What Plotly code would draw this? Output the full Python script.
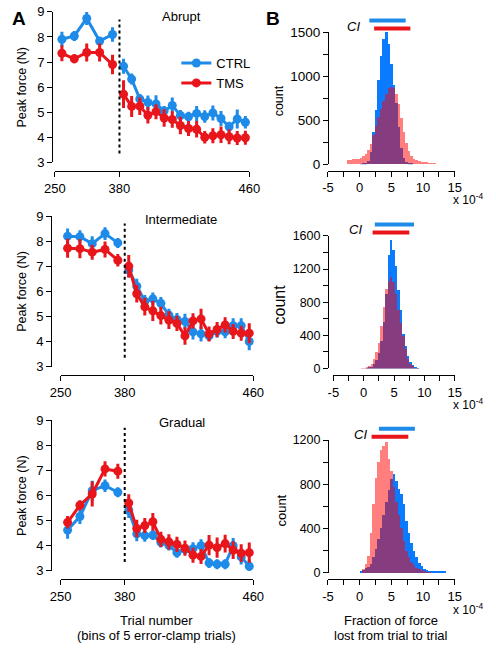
import plotly.graph_objects as go

W, H = 496, 651
FONT = "Liberation Sans, Arial, sans-serif"
BLUE = "#1f8be8"
RED = "#e8151b"
HIST_BLUE = "#0a7bff"
HIST_RED = "rgba(255,0,0,0.5)"

# ---------------- data ----------------
pre_trials = [264, 289, 314, 340, 366]
post_trials = [382.5, 387.5, 392.5, 397.5, 402.5, 407.5, 412.5, 417.5,
               422.5, 427.5, 432.5, 437.5, 442.5, 447.5, 452.5, 457.5]
x_ticks_pre = [250]
x_ticks_post = [380, 460]
y_ticks_force = [3, 4, 5, 6, 7, 8, 9]
break_trial = 380

abrupt_ctrl_pre = [7.91, 8.04, 8.74, 7.84, 8.10]
abrupt_ctrl_pre_err = [0.30, 0.20, 0.26, 0.16, 0.29]
abrupt_tms_pre = [7.35, 7.13, 7.38, 7.38, 6.90]
abrupt_tms_pre_err = [0.32, 0.18, 0.36, 0.36, 0.39]
abrupt_ctrl_post = [6.83, 6.32, 5.53, 5.39, 5.33, 5.05, 5.27, 4.87,
                    4.82, 4.95, 4.83, 4.97, 4.75, 4.42, 4.73, 4.60]
abrupt_ctrl_post_err = [0.30, 0.22, 0.20, 0.28, 0.35, 0.20, 0.32, 0.22,
                        0.20, 0.30, 0.25, 0.30, 0.30, 0.20, 0.38, 0.25]
abrupt_tms_post = [5.72, 5.23, 5.24, 4.88, 5.02, 4.77, 4.71, 4.47,
                   4.35, 4.32, 4.00, 4.06, 4.10, 4.02, 3.97, 3.98]
abrupt_tms_post_err = [0.55, 0.42, 0.35, 0.33, 0.30, 0.35, 0.33, 0.35,
                       0.30, 0.33, 0.25, 0.30, 0.33, 0.30, 0.28, 0.28]

inter_ctrl_pre = [8.20, 8.18, 7.90, 8.30, 7.93]
inter_ctrl_pre_err = [0.30, 0.25, 0.30, 0.25, 0.20]
inter_tms_pre = [7.72, 7.70, 7.56, 7.67, 7.24]
inter_tms_pre_err = [0.38, 0.38, 0.30, 0.32, 0.25]
inter_ctrl_post = [6.85, 6.20, 5.60, 5.70, 5.52, 5.05, 4.88, 4.80,
                   4.38, 4.30, 4.22, 4.40, 4.38, 4.63, 4.63, 4.00]
inter_ctrl_post_err = [0.30, 0.30, 0.25, 0.25, 0.25, 0.25, 0.25, 0.30,
                       0.30, 0.30, 0.20, 0.25, 0.25, 0.30, 0.30, 0.35]
inter_tms_post = [7.00, 5.90, 5.38, 5.22, 5.03, 4.85, 4.72, 4.22,
                  4.82, 4.90, 4.30, 4.48, 4.66, 4.40, 4.33, 4.33]
inter_tms_post_err = [0.45, 0.35, 0.35, 0.40, 0.35, 0.35, 0.30, 0.35,
                      0.30, 0.40, 0.30, 0.30, 0.30, 0.30, 0.30, 0.40]

grad_ctrl_pre = [4.62, 5.16, 6.19, 6.39, 6.13]
grad_ctrl_pre_err = [0.35, 0.30, 0.40, 0.25, 0.20]
grad_tms_pre = [4.93, 5.61, 6.06, 7.06, 6.97]
grad_tms_pre_err = [0.25, 0.20, 0.50, 0.30, 0.30]
grad_ctrl_post = [5.40, 4.47, 4.40, 4.42, 4.13, 4.01, 3.72, 3.85,
                  3.88, 4.00, 3.31, 3.26, 3.26, 4.00, 3.55, 3.18]
grad_ctrl_post_err = [0.30, 0.30, 0.25, 0.20, 0.20, 0.20, 0.20, 0.20,
                      0.25, 0.25, 0.20, 0.20, 0.20, 0.30, 0.30, 0.25]
grad_tms_post = [5.70, 4.68, 4.80, 4.95, 4.25, 4.15, 4.05, 3.90,
                 3.62, 3.57, 4.02, 3.92, 4.08, 3.82, 3.70, 3.72]
grad_tms_post_err = [0.35, 0.35, 0.30, 0.35, 0.30, 0.30, 0.30, 0.30,
                     0.30, 0.30, 0.40, 0.40, 0.35, 0.35, 0.35, 0.40]

# histogram bins (x 10^-4), width 0.4
hist_centers = [-1.8, -1.4, -1.0, -0.6, -0.2, 0.2, 0.6, 1.0, 1.4, 1.8,
                2.2, 2.6, 3.0, 3.4, 3.8, 4.2, 4.6, 5.0, 5.4, 5.8,
                6.2, 6.6, 7.0, 7.4, 7.8, 8.2, 8.6, 9.0, 9.4, 9.8,
                10.2, 10.6, 11.0, 11.4, 11.8, 12.2, 12.6, 13.0, 13.4]
hist_bin_width = 0.4

abrupt_hist_ctrl = [0, 0, 0, 0, 0, 2, 5, 12, 40, 140,
                    360, 620, 950, 1230, 1420, 1500, 1360, 1140, 900, 700,
                    420, 180, 70, 25, 8, 3, 0, 0, 0, 0,
                    0, 0, 0, 0, 0, 0, 0, 0, 0]
abrupt_hist_tms = [50, 52, 55, 58, 62, 72, 90, 120, 165, 230,
                   330, 430, 530, 630, 720, 800, 860, 880, 860, 800,
                   680, 520, 370, 240, 150, 95, 60, 42, 35, 28,
                   22, 20, 18, 15, 12, 0, 0, 0, 0]
inter_hist_ctrl = [0, 0, 0, 0, 0, 0, 3, 10, 25, 50,
                   100, 190, 330, 560, 900, 1375, 1550, 1430, 1240, 943,
                   707, 413, 275, 157, 79, 39, 15, 5, 0, 0,
                   0, 0, 0, 0, 0, 0, 0, 0, 0]
inter_hist_tms = [0, 0, 0, 0, 5, 10, 15, 30, 59, 118,
                  196, 314, 511, 747, 963, 1061, 1100, 1041, 900, 707,
                  550, 393, 236, 118, 59, 27, 10, 3, 0, 0,
                  0, 0, 0, 0, 0, 0, 0, 0, 0]
grad_hist_ctrl = [0, 0, 0, 0, 0, 9, 24, 40, 55, 82,
                  141, 215, 303, 406, 523, 641, 744, 850, 891, 832,
                  758, 714, 626, 464, 362, 273, 200, 141, 88, 59,
                  38, 24, 18, 12, 12, 12, 12, 12, 8]
grad_hist_tms = [0, 0, 0, 0, 0, 0, 38, 82, 156, 362,
                 626, 861, 1000, 1111, 1147, 1185, 1030, 920, 773, 641,
                 523, 406, 288, 200, 141, 97, 68, 47, 32, 25,
                 18, 12, 8, 0, 0, 0, 0, 0, 0]

ci_abrupt_ctrl = [1.53, 7.26]
ci_abrupt_tms = [2.28, 8.00]
ci_inter_ctrl = [1.83, 8.29]
ci_inter_tms = [1.47, 7.52]
ci_grad_ctrl = [3.04, 8.72]
ci_grad_tms = [1.88, 7.68]

hist_x_tickvals = [-5, 0, 5, 10, 15]
hist_x_ticktext = ["-5", "0", "5", "10", "15"]
hist_x_minor = [-5, -2.5, 0, 2.5, 5, 7.5, 10, 12.5, 15]
abrupt_y_ticks = [0, 500, 1000, 1500]
abrupt_y_minor = [0, 250, 500, 750, 1000, 1250, 1500]
inter_y_ticks = [0, 400, 800, 1200, 1600]
inter_y_minor = [0, 200, 400, 600, 800, 1000, 1200, 1400, 1600]
grad_y_ticks = [0, 400, 800, 1200]
grad_y_minor = [0, 200, 400, 600, 800, 1000, 1200]


# ---------------- helpers ----------------
def fx(px):
    return px / W


def fy(py):
    return 1 - py / H


def akey(letter, n):
    return f"{letter}axis" if n == 1 else f"{letter}axis{n}"


def aref(letter, n):
    return letter if n == 1 else f"{letter}{n}"


fig = go.Figure()
layout = dict(
    width=W, height=H, margin=dict(l=0, r=0, t=0, b=0), autosize=False,
    paper_bgcolor="white", plot_bgcolor="white",
    barmode="overlay", bargap=0,
    font=dict(family=FONT, color="black", size=13),
    showlegend=True,
    legend=dict(x=fx(173), y=fy(42), xanchor="left", yanchor="top",
                font=dict(size=13, family=FONT, color="black"),
                bgcolor="rgba(0,0,0,0)", itemwidth=30, tracegroupgap=0),
)
annotations = []
shapes = []

axis_common = dict(showline=True, linecolor="black", linewidth=1, ticks="outside",
                   ticklen=5, tickcolor="black", tickwidth=1, showgrid=False,
                   zeroline=False, anchor="free")

panelsA = [
    dict(title="Abrupt", title_xy=(178, 10),
         ctrl_pre=abrupt_ctrl_pre, ctrl_pre_err=abrupt_ctrl_pre_err,
         tms_pre=abrupt_tms_pre, tms_pre_err=abrupt_tms_pre_err,
         ctrl_post=abrupt_ctrl_post, ctrl_post_err=abrupt_ctrl_post_err,
         tms_post=abrupt_tms_post, tms_post_err=abrupt_tms_post_err,
         yax_x=43, ytop=5, ybot=159, xax_y=168, xl=46, xm=113.5, xr=249.5),
    dict(title="Intermediate", title_xy=(178, 218),
         ctrl_pre=inter_ctrl_pre, ctrl_pre_err=inter_ctrl_pre_err,
         tms_pre=inter_tms_pre, tms_pre_err=inter_tms_pre_err,
         ctrl_post=inter_ctrl_post, ctrl_post_err=inter_ctrl_post_err,
         tms_post=inter_tms_post, tms_post_err=inter_tms_post_err,
         yax_x=42, ytop=214, ybot=368, xax_y=377, xl=52, xm=119, xr=253.5),
    dict(title="Gradual", title_xy=(179, 425),
         ctrl_pre=grad_ctrl_pre, ctrl_pre_err=grad_ctrl_pre_err,
         tms_pre=grad_tms_pre, tms_pre_err=grad_tms_pre_err,
         ctrl_post=grad_ctrl_post, ctrl_post_err=grad_ctrl_post_err,
         tms_post=grad_tms_post, tms_post_err=grad_tms_post_err,
         yax_x=42, ytop=423, ybot=577, xax_y=586, xl=52, xm=119, xr=253.5),
]

for i, p in enumerate(panelsA):
    nxp, nxq, ny = 2 * i + 1, 2 * i + 2, i + 1
    layout[akey("x", nxp)] = dict(axis_common, domain=[fx(p["xl"]), fx(p["xm"])],
                                  range=[250, break_trial], position=fy(p["xax_y"]),
                                  tickmode="array", tickvals=x_ticks_pre,
                                  ticktext=[str(v) for v in x_ticks_pre],
                                  tickfont=dict(size=13, color="black", family=FONT))
    layout[akey("x", nxq)] = dict(axis_common, domain=[fx(p["xm"]), fx(p["xr"])],
                                  range=[break_trial, 460], position=fy(p["xax_y"]),
                                  tickmode="array", tickvals=x_ticks_post,
                                  ticktext=[str(v) for v in x_ticks_post],
                                  tickfont=dict(size=13, color="black", family=FONT))
    layout[akey("y", ny)] = dict(axis_common, domain=[fy(p["ybot"]), fy(p["ytop"])],
                                 range=[3, 9], position=fx(p["yax_x"]),
                                 tickmode="array", tickvals=y_ticks_force,
                                 tickfont=dict(size=13, color="black", family=FONT))
    for name, color, key in [("CTRL", BLUE, "ctrl"), ("TMS", RED, "tms")]:
        for seg, xs, xn in [("pre", pre_trials, nxp), ("post", post_trials, nxq)]:
            fig.add_trace(go.Scatter(
                x=xs, y=p[f"{key}_{seg}"], mode="lines+markers", name=name,
                showlegend=(i == 0 and seg == "pre"),
                line=dict(color=color, width=3),
                marker=dict(color=color, size=9, line=dict(width=0)),
                error_y=dict(type="data", array=p[f"{key}_{seg}_err"], visible=True,
                             color=color, thickness=3, width=0),
                xaxis=aref("x", xn), yaxis=aref("y", ny), cliponaxis=False,
            ))
    shapes.append(dict(type="line", xref=f"{aref('x', nxq)} domain", yref=aref("y", ny),
                       x0=0, x1=0, y0=3.35, y1=8.7,
                       line=dict(color="black", width=2, dash="3px,3px")))
    annotations.append(dict(text=p["title"], x=fx(p["title_xy"][0]), y=fy(p["title_xy"][1]),
                            xref="paper", yref="paper", showarrow=False,
                            xanchor="center", yanchor="middle",
                            font=dict(size=13, family=FONT, color="black")))
    annotations.append(dict(text="Peak force (N)", x=fx(12), y=fy((p["ytop"] + p["ybot"]) / 2),
                            xref="paper", yref="paper", showarrow=False, textangle=-90,
                            xanchor="center", yanchor="middle",
                            font=dict(size=12.5, family=FONT, color="black")))

panelsB = [
    dict(ctrl=abrupt_hist_ctrl, tms=abrupt_hist_tms, ci_ctrl=ci_abrupt_ctrl, ci_tms=ci_abrupt_tms,
         yr=1500, yt=abrupt_y_ticks, ym=abrupt_y_minor, ytf=13.5,
         yax_x=331.7, ytop=25.7, ybot=161, xax_y=167.7, xl=331.7, xr=464.3,
         count_xy=(280, 96), count_size=12.5, exp_y=197, ci_text=(358, 20),
         ci_y=(13.7, 22.0)),
    dict(ctrl=inter_hist_ctrl, tms=inter_hist_tms, ci_ctrl=ci_inter_ctrl, ci_tms=ci_inter_tms,
         yr=1600, yt=inter_y_ticks, ym=inter_y_minor, ytf=12.5,
         yax_x=331.7, ytop=234.3, ybot=370, xax_y=377, xl=337.3, xr=464.3,
         count_xy=(282, 304), count_size=16, exp_y=406, ci_text=(361, 228),
         ci_y=(222.7, 230.7)),
    dict(ctrl=grad_hist_ctrl, tms=grad_hist_tms, ci_ctrl=ci_grad_ctrl, ci_tms=ci_grad_tms,
         yr=1200, yt=grad_y_ticks, ym=grad_y_minor, ytf=12.5,
         yax_x=331.7, ytop=443.3, ybot=579.3, xax_y=586, xl=331.7, xr=464.3,
         count_xy=(283, 515), count_size=13, exp_y=616, ci_text=(366, 438),
         ci_y=(431.7, 440.0)),
]

for j, p in enumerate(panelsB):
    nx, ny = 7 + j, 4 + j
    layout[akey("x", nx)] = dict(axis_common, domain=[fx(p["xl"]), fx(p["xr"])],
                                 range=[-5, 15], position=fy(p["xax_y"]),
                                 tickmode="array", tickvals=hist_x_tickvals,
                                 ticktext=hist_x_ticktext,
                                 minor=dict(tickmode="array", tickvals=hist_x_minor,
                                            ticks="outside", ticklen=5, tickcolor="black",
                                            showgrid=False),
                                 tickfont=dict(size=13, color="black", family=FONT))
    layout[akey("y", ny)] = dict(axis_common, domain=[fy(p["ybot"]), fy(p["ytop"])],
                                 range=[0, p["yr"]], position=fx(p["yax_x"]),
                                 tickmode="array", tickvals=p["yt"],
                                 minor=dict(tickmode="array", tickvals=p["ym"],
                                            ticks="outside", ticklen=5, tickcolor="black",
                                            showgrid=False),
                                 tickfont=dict(size=p["ytf"], color="black", family=FONT))
    fig.add_trace(go.Bar(x=hist_centers, y=p["ctrl"], width=hist_bin_width,
                         marker=dict(color=HIST_BLUE, line=dict(width=0)),
                         showlegend=False, xaxis=aref("x", nx), yaxis=aref("y", ny)))
    fig.add_trace(go.Bar(x=hist_centers, y=p["tms"], width=hist_bin_width,
                         marker=dict(color=HIST_RED, line=dict(width=0)),
                         showlegend=False, xaxis=aref("x", nx), yaxis=aref("y", ny)))
    for ci, col, cy in [(p["ci_ctrl"], BLUE, p["ci_y"][0]), (p["ci_tms"], RED, p["ci_y"][1])]:
        shapes.append(dict(type="line", xref=aref("x", nx), yref="paper",
                           x0=ci[0], x1=ci[1], y0=fy(cy), y1=fy(cy),
                           line=dict(color=col, width=4)))
    annotations.append(dict(text="<i>CI</i>", x=fx(p["ci_text"][0]), y=fy(p["ci_text"][1]),
                            xref="paper", yref="paper", showarrow=False,
                            xanchor="center", yanchor="middle",
                            font=dict(size=13, family=FONT, color="black")))
    annotations.append(dict(text="count", x=fx(p["count_xy"][0]), y=fy(p["count_xy"][1]),
                            xref="paper", yref="paper", showarrow=False, textangle=-90,
                            xanchor="center", yanchor="middle",
                            font=dict(size=p["count_size"], family=FONT, color="black")))
    annotations.append(dict(text="x 10<sup>-4</sup>", x=fx(496), y=fy(p["exp_y"]),
                            xref="paper", yref="paper", showarrow=False,
                            xanchor="right", yanchor="middle",
                            font=dict(size=12, family=FONT, color="black")))

# panel letters and axis titles
annotations += [
    dict(text="<b>A</b>", x=fx(8), y=fy(12), xref="paper", yref="paper", showarrow=False,
         xanchor="center", yanchor="middle", font=dict(size=19, family=FONT, color="black")),
    dict(text="<b>B</b>", x=fx(274), y=fy(12), xref="paper", yref="paper", showarrow=False,
         xanchor="center", yanchor="middle", font=dict(size=19, family=FONT, color="black")),
    dict(text="Trial number", x=fx(152), y=fy(628), xref="paper", yref="paper",
         showarrow=False, xanchor="center", yanchor="middle",
         font=dict(size=13, family=FONT, color="black")),
    dict(text="(bins of 5 error-clamp trials)", x=fx(152), y=fy(643), xref="paper",
         yref="paper", showarrow=False, xanchor="center", yanchor="middle",
         font=dict(size=13, family=FONT, color="black")),
    dict(text="Fraction of force", x=fx(398), y=fy(628), xref="paper", yref="paper",
         showarrow=False, xanchor="center", yanchor="middle",
         font=dict(size=13, family=FONT, color="black")),
    dict(text="lost from trial to trial", x=fx(398), y=fy(643), xref="paper",
         yref="paper", showarrow=False, xanchor="center", yanchor="middle",
         font=dict(size=13, family=FONT, color="black")),
]

layout["annotations"] = annotations
layout["shapes"] = shapes
fig.update_layout(**layout)
fig.write_html("out.html", config={"displayModeBar": False},
               post_script="document.body.style.margin='0px';")
